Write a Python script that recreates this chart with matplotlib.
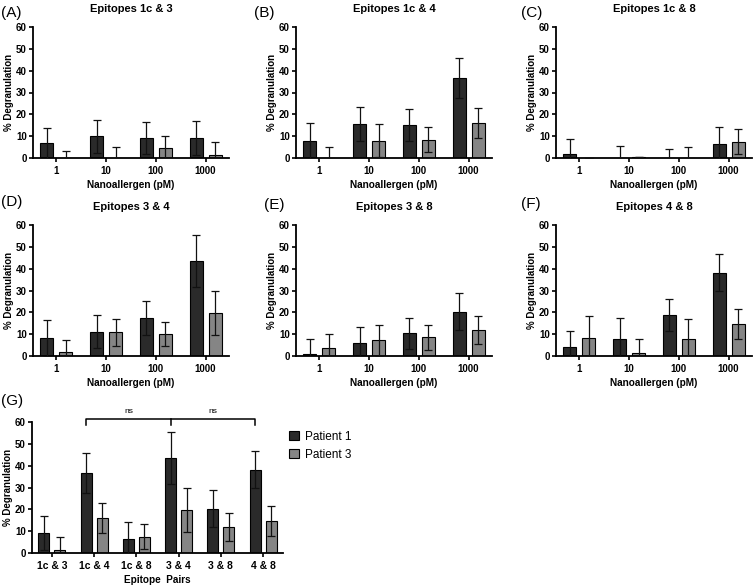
import matplotlib.pyplot as plt
import numpy as np
from matplotlib.patches import Patch

plt.rcParams['font.family'] = ['Liberation Sans', 'DejaVu Sans']

# 数据：每个表位组合在 1, 10, 100, 1000 pM 下的脱颗粒百分比 (均值, SD)
conc_labels = ['1', '10', '100', '1000']
pair_labels = ['1c & 3', '1c & 4', '1c & 8', '3 & 4', '3 & 8', '4 & 8']
panel_tags = ['(A)', '(B)', '(C)', '(D)', '(E)', '(F)']

p1_mean = [[6.7, 10.0, 9.0, 9.0],
           [7.7, 15.5, 15.0, 36.5],
           [1.8, 0.0, 0.0, 6.3],
           [8.3, 11.2, 17.2, 43.5],
           [0.8, 5.8, 10.4, 20.2],
           [4.3, 8.0, 18.7, 38.2]]
p1_sd = [[7.0, 7.5, 7.3, 7.8],
         [8.3, 7.7, 7.3, 9.2],
         [7.1, 5.7, 4.0, 8.0],
         [8.2, 7.5, 7.8, 11.8],
         [7.0, 7.5, 7.0, 8.5],
         [7.0, 9.5, 7.3, 8.5]]
p3_mean = [[0.0, 0.0, 4.5, 1.6],
           [0.0, 8.0, 8.3, 16.0],
           [0.0, 0.3, 0.0, 7.5],
           [1.7, 10.8, 10.2, 19.7],
           [3.8, 7.1, 8.5, 12.0],
           [8.3, 1.4, 8.0, 14.6]]
p3_sd = [[3.3, 5.2, 5.7, 5.9],
         [5.2, 7.5, 5.7, 7.0],
         [0.0, 0.0, 5.0, 5.7],
         [5.7, 6.0, 5.6, 10.1],
         [6.3, 7.0, 5.7, 6.3],
         [9.8, 6.6, 8.8, 7.0]]

DARK = '#2a2a2a'
GRAY = '#858585'
W, H = 756, 586
OFF = 0.19
BW = 0.26


def add_ax(fig, left, top, width, height):
    """按像素位置添加坐标轴"""
    return fig.add_axes([left / W, 1 - (top + height) / H, width / W, height / H])


def draw_bars(ax, m1, s1, m3, s3):
    x = np.arange(len(m1))
    ax.bar(x - OFF, m1, BW, color=DARK, edgecolor='black', linewidth=0.8, zorder=2)
    ax.bar(x + OFF, m3, BW, color=GRAY, edgecolor='black', linewidth=0.8, zorder=2)
    for xs, m, s in ((x - OFF, m1, s1), (x + OFF, m3, s3)):
        ax.errorbar(xs, m, yerr=s, fmt='none', ecolor='#111111', elinewidth=0.9,
                    capsize=3, capthick=0.9, zorder=3)
    return x


def style_ax(ax, n, labels, xlabel):
    ax.set_xlim(-0.47, n - 0.53)
    ax.set_ylim(0, 60)
    ax.set_yticks(range(0, 61, 10))
    ax.set_xticks(range(n))
    ax.set_xticklabels(labels)
    for s in ('top', 'right'):
        ax.spines[s].set_visible(False)
    for s in ('left', 'bottom'):
        ax.spines[s].set_linewidth(1.3)
    ax.tick_params(axis='both', labelsize=7, width=1.2, length=3, pad=1.5)
    ax.tick_params(axis='x', pad=2.5)
    for t in ax.get_xticklabels() + ax.get_yticklabels():
        t.set_fontweight('bold')
    ax.set_ylabel('% Degranulation', fontsize=7, fontweight='bold', labelpad=1)
    ax.set_xlabel(xlabel, fontsize=7.2, fontweight='bold', labelpad=3)


fig = plt.figure(figsize=(W / 100, H / 100), dpi=100)

lefts = [33, 296, 556]
tops = [27, 225]
tag_pos = [(1, 13), (254, 13), (521, 13), (1, 202), (264, 205), (521, 204)]

for i in range(6):
    r, c = divmod(i, 3)
    ax = add_ax(fig, lefts[c], tops[r], 196, 131)
    draw_bars(ax, p1_mean[i], p1_sd[i], p3_mean[i], p3_sd[i])
    style_ax(ax, 4, conc_labels, 'Nanoallergen (pM)')
    ax.set_title('Epitopes ' + pair_labels[i], fontsize=8, fontweight='bold', pad=11)
    fig.text(tag_pos[i][0] / W, 1 - tag_pos[i][1] / H, panel_tags[i],
             fontsize=11, va='center', ha='left')

# (G) 1000 pM 下各表位组合的比较
g_p1 = [m[-1] for m in p1_mean]
g_p1_sd = [s[-1] for s in p1_sd]
g_p3 = [m[-1] for m in p3_mean]
g_p3_sd = [s[-1] for s in p3_sd]

axg = add_ax(fig, 32, 422, 251, 131)
draw_bars(axg, g_p1, g_p1_sd, g_p3, g_p3_sd)
style_ax(axg, 6, pair_labels, 'Epitope  Pairs')
axg.tick_params(axis='x', labelsize=7.5)
fig.text(1 / W, 1 - 401 / H, '(G)', fontsize=11, va='center', ha='left')

# 显著性标注括号
bx = [1 - OFF, 3 - OFF, 5 - OFF]
axg.plot([bx[0], bx[0], bx[2], bx[2]], [58.6, 61.2, 61.2, 58.6], color='black',
         lw=1.1, clip_on=False)
axg.plot([bx[1], bx[1]], [58.6, 61.2], color='black', lw=1.1, clip_on=False)
axg.text((bx[0] + bx[1]) / 2, 63, 'ns', fontsize=6, ha='center', va='bottom')
axg.text((bx[1] + bx[2]) / 2, 63, 'ns', fontsize=6, ha='center', va='bottom')

handles = [Patch(facecolor=DARK, edgecolor='black', linewidth=0.8, label='Patient 1'),
           Patch(facecolor=GRAY, edgecolor='black', linewidth=0.8, label='Patient 3')]
fig.legend(handles=handles, loc='upper left', bbox_to_anchor=(284 / W, 1 - 426 / H),
           frameon=False, fontsize=8.5, handlelength=0.85, handleheight=0.8,
           handletextpad=0.5, labelspacing=0.5, borderaxespad=0)

fig.savefig('out.png', dpi=100)
